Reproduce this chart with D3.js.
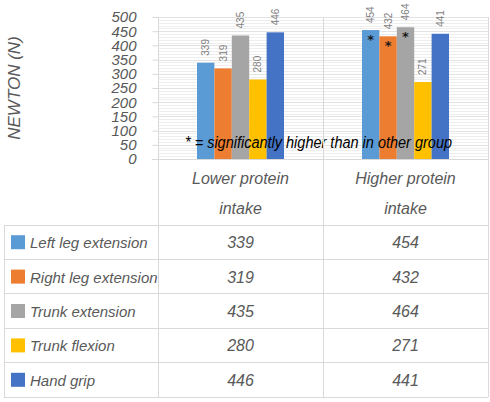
<!DOCTYPE html>
<html>
<head>
<meta charset="utf-8">
<script src="https://cdn.jsdelivr.net/npm/d3@7"></script>
<style>
	body { margin: 0; background: #fff; }
	.hand { font-family: "Liberation Sans Narrow", "Liberation Sans", sans-serif; font-style: italic; fill: #595959; }
	.lbl { font-family: "Liberation Sans", sans-serif; font-size: 10px; fill: #7f7f7f; }
</style>
</head>
<body>
<svg id="chart" width="490" height="402"></svg>
<script>
// groups on the x axis
var groups = ["Lower protein intake", "Higher protein intake"];
var groupLines = [["Lower protein", "intake"], ["Higher protein", "intake"]];
// measurements (series)
var series = ["Left leg extension", "Right leg extension", "Trunk extension", "Trunk flexion", "Hand grip"];
var colors = ["#5b9bd5", "#ed7d31", "#a5a5a5", "#ffc000", "#4472c4"];
// values per series: [lower, higher]
var values = [
	[339, 454],
	[319, 432],
	[435, 464],
	[280, 271],
	[446, 441]
];
// significantly higher in the higher protein group
var significant = [true, true, true, false, false];
var yTicks = [0, 50, 100, 150, 200, 250, 300, 350, 400, 450, 500];

(function () {
	var svg = d3.select("#chart");
	var plotLeft = 158, plotRight = 488, plotTop = 17, plotBottom = 159;
	var tableTop = 225, tableBottom = 397, tableLeft = 4;

	var x0 = d3.scaleBand().domain(groups).range([plotLeft, plotRight]);
	var x1 = d3.scaleBand().domain(series).range([0, x0.bandwidth()]).paddingOuter(2.24);
	var y = d3.scaleLinear().domain([0, 500]).range([plotBottom, plotTop]);
	var row = d3.scaleBand().domain(series).range([tableTop, tableBottom]);

	// minor gridlines every 10
	svg.append("g")
		.selectAll("line")
		.data(d3.range(10, 501, 10))
		.enter().append("line")
		.attr("x1", plotLeft).attr("x2", plotRight)
		.attr("y1", function(d) { return Math.round(y(d)) + 0.5; })
		.attr("y2", function(d) { return Math.round(y(d)) + 0.5; })
		.attr("stroke", function(d) { return d % 50 === 0 ? "#e3e3e3" : "#eeeeee"; });

	// y axis
	var yAxis = svg.append("g")
		.attr("transform", "translate(" + (plotLeft + 0.5) + ",0)")
		.call(d3.axisLeft(y).tickValues(yTicks).tickSize(6).tickSizeOuter(0));
	yAxis.select(".domain").remove();
	yAxis.selectAll("line").attr("stroke", "#d9d9d9");
	yAxis.selectAll("text")
		.attr("class", "hand")
		.attr("x", -22)
		.style("font-size", "15px");

	// y axis title
	svg.append("text")
		.attr("class", "hand")
		.attr("transform", "translate(20," + ((plotTop + plotBottom) / 2) + ") rotate(-90)")
		.style("text-anchor", "middle")
		.style("font-size", "17px")
		.text("NEWTON (N)");

	// bars
	var bars = svg.append("g");
	series.forEach(function(s, i) {
		groups.forEach(function(g, j) {
			var v = values[i][j];
			var cx = x0(g) + x1(s) + x1.bandwidth() / 2;
			bars.append("rect")
				.attr("x", x0(g) + x1(s))
				.attr("width", x1.bandwidth())
				.attr("y", y(v))
				.attr("height", plotBottom - y(v))
				.attr("fill", colors[i]);
			bars.append("text")
				.attr("class", "lbl")
				.attr("transform", "translate(" + cx + "," + (y(v) - 7) + ") rotate(-90)")
				.attr("dy", "0.35em")
				.text(v);
			if (j === 1 && significant[i]) {
				bars.append("text")
					.attr("x", cx)
					.attr("y", y(v) + 14)
					.style("text-anchor", "middle")
					.style("font-family", "DejaVu Sans, sans-serif")
					.style("font-size", "13px")
					.style("font-weight", "bold")
					.attr("fill", "#1a1a1a")
					.text("*");
			}
		});
	});

	// annotation
	svg.append("text")
		.attr("x", 185)
		.attr("y", 148)
		.attr("class", "hand")
		.attr("textLength", 267)
		.attr("lengthAdjust", "spacingAndGlyphs")
		.style("fill", "#000")
		.style("font-size", "16px")
		.text("* = significantly higher than in other group");

	// table lines
	var lines = svg.append("g").attr("stroke", "#d9d9d9").attr("shape-rendering", "crispEdges");
	lines.append("line").attr("x1", plotLeft - 6).attr("x2", plotRight).attr("y1", plotBottom).attr("y2", plotBottom);
	[plotLeft, x0(groups[1]), plotRight].forEach(function(d) {
		lines.append("line").attr("x1", d).attr("x2", d).attr("y1", plotTop).attr("y2", tableBottom);
	});
	lines.append("line").attr("x1", tableLeft).attr("x2", tableLeft).attr("y1", tableTop).attr("y2", tableBottom);
	series.forEach(function(s) {
		lines.append("line").attr("x1", tableLeft).attr("x2", plotRight).attr("y1", row(s)).attr("y2", row(s));
	});
	lines.append("line").attr("x1", tableLeft).attr("x2", plotRight).attr("y1", tableBottom).attr("y2", tableBottom);

	// category labels
	groups.forEach(function(g, j) {
		var t = svg.append("text")
			.attr("class", "hand")
			.attr("x", x0(g) + x0.bandwidth() / 2)
			.attr("y", 184)
			.style("text-anchor", "middle")
			.style("font-size", "16px");
		groupLines[j].forEach(function(line, k) {
			t.append("tspan")
				.attr("x", x0(g) + x0.bandwidth() / 2)
				.attr("dy", k === 0 ? 0 : 30)
				.text(line);
		});
	});

	// table rows
	series.forEach(function(s, i) {
		var cy = row(s) + row.bandwidth() / 2;
		svg.append("rect")
			.attr("x", 11).attr("y", cy - 7)
			.attr("width", 14).attr("height", 14)
			.attr("fill", colors[i]);
		svg.append("text")
			.attr("class", "hand")
			.attr("x", 30).attr("y", cy + 6)
			.style("font-size", "15px")
			.text(s);
		groups.forEach(function(g, j) {
			svg.append("text")
				.attr("class", "hand")
				.attr("x", x0(g) + x0.bandwidth() / 2)
				.attr("y", cy + 6)
				.style("text-anchor", "middle")
				.style("font-size", "16px")
				.text(values[i][j]);
		});
	});
})();
</script>
</body>
</html>
